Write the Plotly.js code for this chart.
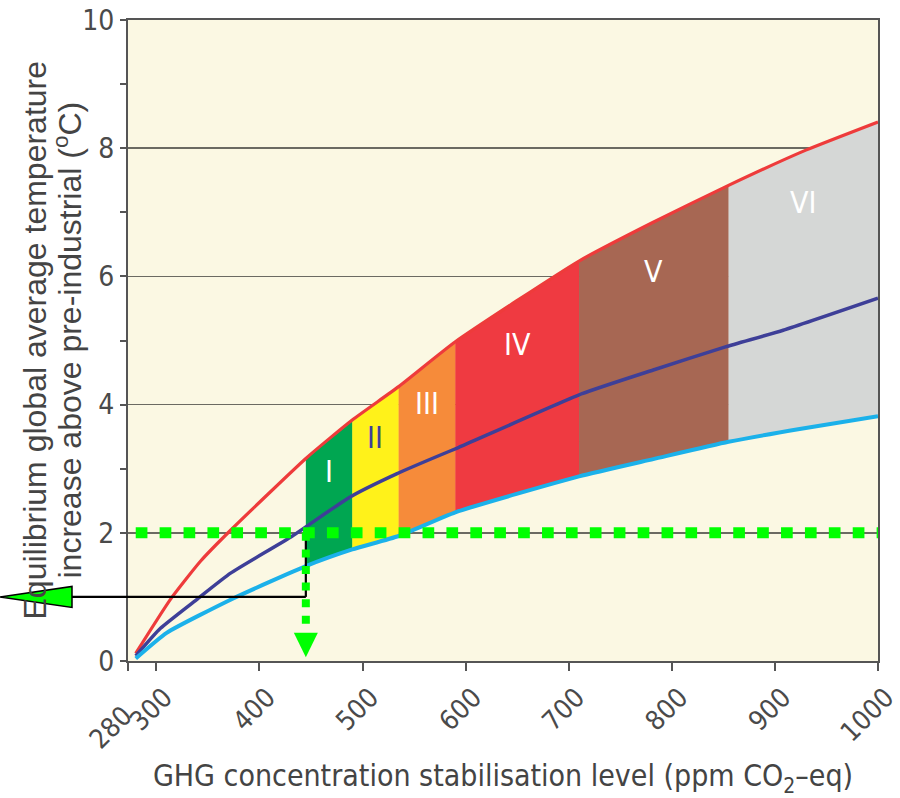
<!DOCTYPE html>
<html>
<head>
<meta charset="utf-8">
<script src="https://cdn.plot.ly/plotly-3.0.1.min.js"></script>
<style>
html,body{margin:0;padding:0;background:#ffffff;}
#chart{width:900px;height:798px;}
</style>
</head>
<body>
<div id="chart"></div>
<script>
// ---- data ----
// upper bound of climate-sensitivity range (red)
const redX  = [280, 314, 343, 372, 445, 490, 535, 590, 710, 780, 855, 930, 1000];
const redY  = [0.12, 0.97, 1.56, 2.04, 3.16, 3.76, 4.28, 4.98, 6.24, 6.83, 7.42, 7.97, 8.41];
// best estimate (dark blue/purple)
const bestX = [280, 304, 340, 372, 430, 488, 533, 575, 593, 713, 782, 852, 908, 1000];
const bestY = [0.08, 0.51, 0.97, 1.37, 1.93, 2.56, 2.92, 3.21, 3.33, 4.17, 4.54, 4.90, 5.16, 5.66];
// lower bound (light blue)
const blueX = [280, 310, 375, 445, 490, 535, 590, 710, 782, 855, 924, 1000];
const blueY = [0.04, 0.44, 0.98, 1.48, 1.74, 1.95, 2.32, 2.88, 3.15, 3.42, 3.62, 3.82];
// stabilisation categories
const catEdges  = [445, 490, 535, 590, 710, 855, 1000];
const catLabels = ['I', 'II', 'III', 'IV', 'V', 'VI'];
// 2 degC guide
const guideTemp = 2;
const guidePpm  = 445;
const guideStart = 280;
const guideEnd = 1000;
const markerTemp = 1;
// axis ticks (the "280" label sits at the axis origin, drawn separately to avoid overlap)
const xTickVals = [272.5, 300, 400, 500, 600, 700, 800, 900, 1000];
const xTickText = ['', '300', '400', '500', '600', '700', '800', '900', '1000'];
const originLabel = '280';
// titles
const xTitle = 'GHG concentration stabilisation level (ppm CO<sub>2</sub>–eq)';
const yTitleLines = ['Equilibrium global average temperature',
                     'increase above pre-industrial (<sup>o</sup>C)'];

// ---- styles ----
const catColors = ['#00A651', '#FFF21A', '#F68B3A', '#EF3A41', '#A76753', '#D5D7D6'];
const labelColors = ['#ffffff', '#3E3F98', '#ffffff', '#ffffff', '#ffffff', '#ffffff'];
const labelTempOffset = [0.50, 0.53, 0.61, 0.68, 0.77, 0.80];
const NARROW = "'Liberation Sans Narrow', 'DejaVu Sans Condensed', 'Arial Narrow', sans-serif";
const SANS = "'Liberation Sans', Arial, sans-serif";
const xRange = [272.5, 1000];
const yRange = [0, 10];
const plotW = 750, plotH = 641;
const pxPerPpm = plotW / (xRange[1] - xRange[0]);
const pxPerDeg = plotH / (yRange[1] - yRange[0]);
const toPaperX = v => (v - xRange[0]) / (xRange[1] - xRange[0]);

function interp(xs, ys, x) {
  for (let i = 0; i < xs.length - 1; i++) {
    if (x >= xs[i] && x <= xs[i + 1]) {
      return ys[i] + (ys[i + 1] - ys[i]) * (x - xs[i]) / (xs[i + 1] - xs[i]);
    }
  }
  return ys[ys.length - 1];
}

const traces = [];
// category bands between red and light-blue curves
catLabels.forEach((lab, i) => {
  const lo = catEdges[i], hi = catEdges[i + 1];
  const top = redX.map((x, j) => j).filter(j => redX[j] >= lo && redX[j] <= hi);
  const bot = blueX.map((x, j) => j).filter(j => blueX[j] >= lo && blueX[j] <= hi).reverse();
  traces.push({
    type: 'scatter', mode: 'lines',
    x: top.map(j => redX[j]).concat(bot.map(j => blueX[j])),
    y: top.map(j => redY[j]).concat(bot.map(j => blueY[j])),
    fill: 'toself', fillcolor: catColors[i],
    line: {width: 0.8, color: catColors[i]},
    hoverinfo: 'skip', showlegend: false
  });
});
traces.push({type: 'scatter', mode: 'lines', x: redX, y: redY,
  line: {color: '#EE3B3B', width: 3.2, shape: 'spline', smoothing: 0.5}, hoverinfo: 'skip', showlegend: false});
traces.push({type: 'scatter', mode: 'lines', x: bestX, y: bestY,
  line: {color: '#3E3F98', width: 3.5, shape: 'spline', smoothing: 0.5}, hoverinfo: 'skip', showlegend: false});
traces.push({type: 'scatter', mode: 'lines', x: blueX, y: blueY,
  line: {color: '#1BB1EA', width: 4, shape: 'spline', smoothing: 0.5}, hoverinfo: 'skip', showlegend: false});
// black vertical connector
traces.push({type: 'scatter', mode: 'lines', x: [guidePpm, guidePpm], y: [guideTemp, markerTemp],
  line: {color: '#000000', width: 2.2}, hoverinfo: 'skip', showlegend: false});
// green dotted guides
traces.push({type: 'scatter', mode: 'lines', x: [guideStart, guideEnd], y: [guideTemp, guideTemp],
  line: {color: '#00FF00', width: 11, dash: '11.7px,12.2px'}, hoverinfo: 'skip', showlegend: false});
traces.push({type: 'scatter', mode: 'lines', x: [guidePpm, guidePpm], y: [guideTemp, 0.58],
  line: {color: '#00FF00', width: 8, dash: '8px,8.6px'}, hoverinfo: 'skip', showlegend: false});

const annotations = catLabels.map((lab, i) => {
  const xm = (catEdges[i] + catEdges[i + 1]) / 2;
  return {
    x: xm, y: interp(redX, redY, xm) - labelTempOffset[i], xref: 'x', yref: 'y',
    text: lab, showarrow: false,
    font: {family: NARROW, size: 30, color: labelColors[i]}
  };
});
// y-axis title as two rotated lines (tight leading as in the reference)
const yTitleCentersPx = [34, 67];
yTitleLines.forEach((t, i) => {
  annotations.push({
    x: (yTitleCentersPx[i] - 128) / plotW, y: 0.5, xref: 'paper', yref: 'paper',
    xanchor: 'center', yanchor: 'middle', textangle: -90, showarrow: false,
    text: t, font: {family: SANS, size: 32, color: '#444444'}
  });
});
// origin tick label
annotations.push({
  x: -18 / plotW, y: -66 / plotH, xref: 'paper', yref: 'paper',
  xanchor: 'center', yanchor: 'middle', textangle: -45, showarrow: false,
  text: originLabel, font: {family: NARROW, size: 27, color: '#4a4a4a'}
});

// arrow shapes
const triHalfW = 12 / pxPerPpm;       // 24 px wide head
const triTop = 0.44, triTip = 0.06;
const leftHeadTip = -128 / plotW, leftHeadBase = -56 / plotW;
const headHalfH = 10.5 / pxPerDeg;
const shapes = [
  {type: 'line', xref: 'paper', yref: 'y', x0: toPaperX(guidePpm), x1: leftHeadBase, y0: markerTemp, y1: markerTemp,
    line: {color: '#000000', width: 2.2}, layer: 'above'},
  {type: 'path', xref: 'paper', yref: 'y',
    path: `M ${leftHeadTip} ${markerTemp} L ${leftHeadBase} ${markerTemp + headHalfH} L ${leftHeadBase} ${markerTemp - headHalfH} Z`,
    fillcolor: '#00FF00', line: {color: '#000000', width: 1.5}, layer: 'above'},
  {type: 'path', xref: 'x', yref: 'y',
    path: `M ${guidePpm - triHalfW} ${triTop} L ${guidePpm + triHalfW} ${triTop} L ${guidePpm} ${triTip} Z`,
    fillcolor: '#00FF00', line: {color: '#00FF00', width: 0}, layer: 'above'}
];

const layout = {
  width: 900, height: 798,
  margin: {l: 128, r: 22, t: 20, b: 137},
  paper_bgcolor: '#ffffff', plot_bgcolor: '#FBF8E3',
  showlegend: false,
  xaxis: {
    range: xRange, tickmode: 'array', tickvals: xTickVals, ticktext: xTickText,
    tickangle: -45, ticks: 'outside', ticklen: 8, tickwidth: 2, tickcolor: '#555',
    ticklabelshift: 8,
    showline: true, linecolor: '#555', linewidth: 2, mirror: true,
    showgrid: false, zeroline: false,
    tickfont: {family: NARROW, size: 27, color: '#4a4a4a'},
    title: {text: xTitle, standoff: 19, font: {family: NARROW, size: 30, color: '#444'}}
  },
  yaxis: {
    range: yRange, tickmode: 'linear', tick0: 0, dtick: 2,
    ticks: 'outside', ticklen: 6, tickwidth: 2, tickcolor: '#555',
    minor: {dtick: 1, ticks: 'outside', ticklen: 6, tickwidth: 2, tickcolor: '#555', showgrid: false},
    showline: true, linecolor: '#555', linewidth: 2, mirror: true,
    showgrid: true, gridcolor: '#6b6a62', gridwidth: 1.5, zeroline: false,
    tickfont: {family: NARROW, size: 28, color: '#4a4a4a'}
  },
  annotations: annotations,
  shapes: shapes
};

Plotly.newPlot('chart', traces, layout, {staticPlot: true, displayModeBar: false});
</script>
</body>
</html>
